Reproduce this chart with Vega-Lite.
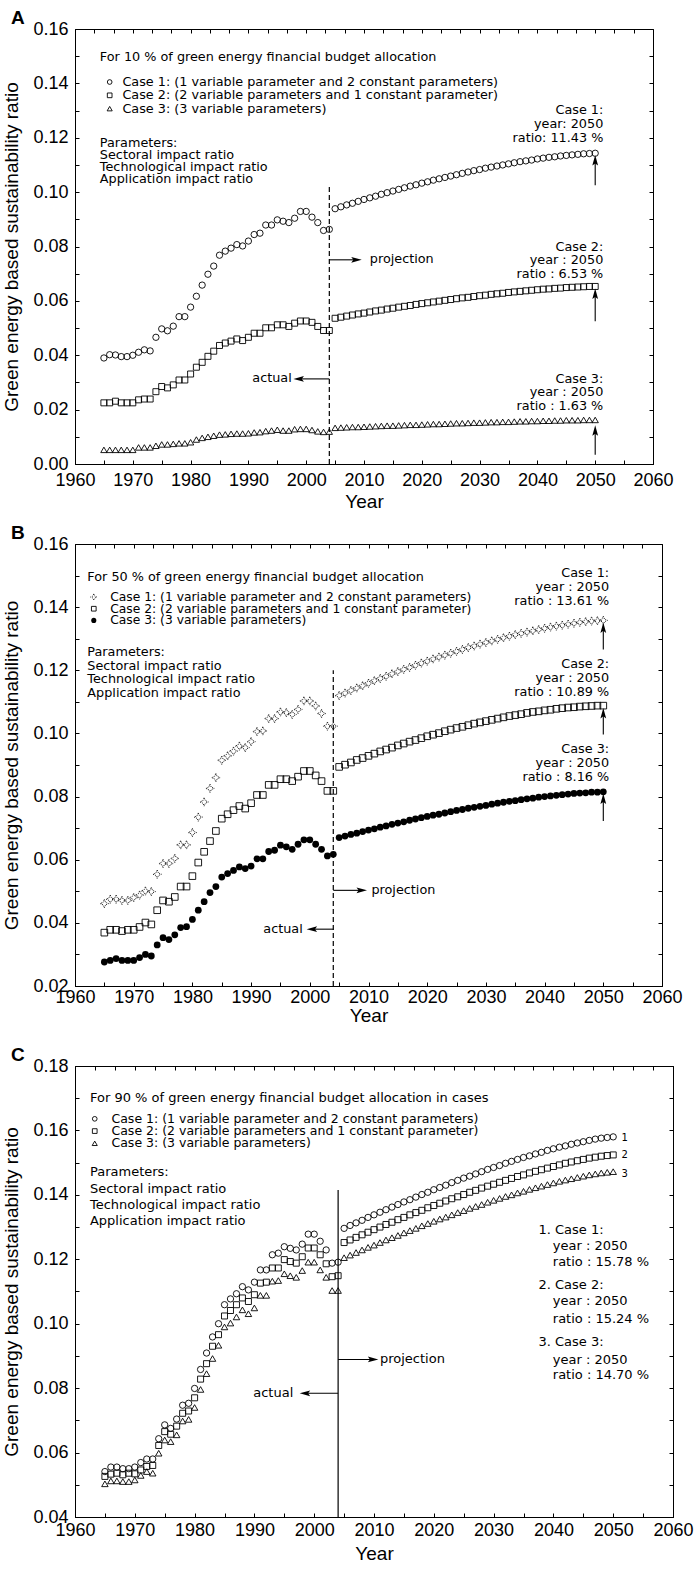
{
"$schema":"https://vega.github.io/schema/vega-lite/v6.json",
"background":"white",
"padding":{"left":2,"top":8,"right":5,"bottom":0},
"bounds":"flush",
"align":"each",
"spacing":80,
"config":{
 "view":{"stroke":"#000","strokeWidth":1},
 "axis":{"grid":false,"domainColor":"#000","domainWidth":1,"tickColor":"#000","tickWidth":1,"tickSize":-4,"labelColor":"#000","titleColor":"#000","labelFont":"Liberation Sans","titleFont":"Liberation Sans","labelFontSize":18,"titleFontSize":19,"titleFontWeight":"normal","labelFlush":false,"labelOverlap":false,"labelBound":false},
 "text":{"font":"DejaVu Sans","fontSize":12.8,"color":"#000"},
 "title":{"font":"Liberation Sans","fontSize":19,"fontWeight":"bold","anchor":"start","frame":"bounds","color":"#000"}
},
"datasets":{
"a1":[{"x":1965,"v":0.039},{"x":1966,"v":0.0402},{"x":1967,"v":0.0401},{"x":1968,"v":0.0395},{"x":1969,"v":0.0395},{"x":1970,"v":0.04},{"x":1971,"v":0.0411},{"x":1972,"v":0.042},{"x":1973,"v":0.0416},{"x":1974,"v":0.0466},{"x":1975,"v":0.0497},{"x":1976,"v":0.049},{"x":1977,"v":0.0507},{"x":1978,"v":0.0542},{"x":1979,"v":0.0542},{"x":1980,"v":0.0577},{"x":1981,"v":0.0617},{"x":1982,"v":0.0658},{"x":1983,"v":0.0698},{"x":1984,"v":0.0728},{"x":1985,"v":0.0768},{"x":1986,"v":0.0783},{"x":1987,"v":0.0794},{"x":1988,"v":0.0807},{"x":1989,"v":0.0802},{"x":1990,"v":0.082},{"x":1991,"v":0.0844},{"x":1992,"v":0.0849},{"x":1993,"v":0.0879},{"x":1994,"v":0.0879},{"x":1995,"v":0.0898},{"x":1996,"v":0.0893},{"x":1997,"v":0.0888},{"x":1998,"v":0.0904},{"x":1999,"v":0.0929},{"x":2000,"v":0.0929},{"x":2001,"v":0.0908},{"x":2002,"v":0.0888},{"x":2003,"v":0.0859},{"x":2004,"v":0.0863},{"x":2005,"v":0.0939},{"x":2006,"v":0.0946},{"x":2007,"v":0.0953},{"x":2008,"v":0.0959},{"x":2009,"v":0.0966},{"x":2010,"v":0.0973},{"x":2011,"v":0.0979},{"x":2012,"v":0.0985},{"x":2013,"v":0.0992},{"x":2014,"v":0.0998},{"x":2015,"v":0.1004},{"x":2016,"v":0.101},{"x":2017,"v":0.1016},{"x":2018,"v":0.1022},{"x":2019,"v":0.1027},{"x":2020,"v":0.1033},{"x":2021,"v":0.1038},{"x":2022,"v":0.1044},{"x":2023,"v":0.1049},{"x":2024,"v":0.1054},{"x":2025,"v":0.1059},{"x":2026,"v":0.1064},{"x":2027,"v":0.1069},{"x":2028,"v":0.1074},{"x":2029,"v":0.1079},{"x":2030,"v":0.1083},{"x":2031,"v":0.1088},{"x":2032,"v":0.1092},{"x":2033,"v":0.1096},{"x":2034,"v":0.11},{"x":2035,"v":0.1104},{"x":2036,"v":0.1108},{"x":2037,"v":0.1112},{"x":2038,"v":0.1115},{"x":2039,"v":0.1118},{"x":2040,"v":0.1122},{"x":2041,"v":0.1125},{"x":2042,"v":0.1128},{"x":2043,"v":0.113},{"x":2044,"v":0.1133},{"x":2045,"v":0.1135},{"x":2046,"v":0.1137},{"x":2047,"v":0.1139},{"x":2048,"v":0.1141},{"x":2049,"v":0.1142},{"x":2050,"v":0.1143}],
"a2":[{"x":1965,"v":0.0225},{"x":1966,"v":0.0225},{"x":1967,"v":0.0231},{"x":1968,"v":0.0225},{"x":1969,"v":0.0225},{"x":1970,"v":0.0225},{"x":1971,"v":0.0236},{"x":1972,"v":0.0239},{"x":1973,"v":0.0239},{"x":1974,"v":0.0266},{"x":1975,"v":0.0285},{"x":1976,"v":0.028},{"x":1977,"v":0.0291},{"x":1978,"v":0.0309},{"x":1979,"v":0.0309},{"x":1980,"v":0.0331},{"x":1981,"v":0.0356},{"x":1982,"v":0.0374},{"x":1983,"v":0.0396},{"x":1984,"v":0.0415},{"x":1985,"v":0.0436},{"x":1986,"v":0.0445},{"x":1987,"v":0.0452},{"x":1988,"v":0.046},{"x":1989,"v":0.0454},{"x":1990,"v":0.0466},{"x":1991,"v":0.0481},{"x":1992,"v":0.0481},{"x":1993,"v":0.0501},{"x":1994,"v":0.0501},{"x":1995,"v":0.0512},{"x":1996,"v":0.0512},{"x":1997,"v":0.0506},{"x":1998,"v":0.0518},{"x":1999,"v":0.0526},{"x":2000,"v":0.0526},{"x":2001,"v":0.0521},{"x":2002,"v":0.0506},{"x":2003,"v":0.0491},{"x":2004,"v":0.0491},{"x":2005,"v":0.0536},{"x":2006,"v":0.054},{"x":2007,"v":0.0544},{"x":2008,"v":0.0548},{"x":2009,"v":0.0552},{"x":2010,"v":0.0555},{"x":2011,"v":0.0559},{"x":2012,"v":0.0563},{"x":2013,"v":0.0566},{"x":2014,"v":0.057},{"x":2015,"v":0.0573},{"x":2016,"v":0.0577},{"x":2017,"v":0.058},{"x":2018,"v":0.0583},{"x":2019,"v":0.0587},{"x":2020,"v":0.059},{"x":2021,"v":0.0593},{"x":2022,"v":0.0596},{"x":2023,"v":0.0599},{"x":2024,"v":0.0602},{"x":2025,"v":0.0605},{"x":2026,"v":0.0608},{"x":2027,"v":0.0611},{"x":2028,"v":0.0613},{"x":2029,"v":0.0616},{"x":2030,"v":0.0619},{"x":2031,"v":0.0621},{"x":2032,"v":0.0624},{"x":2033,"v":0.0626},{"x":2034,"v":0.0628},{"x":2035,"v":0.0631},{"x":2036,"v":0.0633},{"x":2037,"v":0.0635},{"x":2038,"v":0.0637},{"x":2039,"v":0.0639},{"x":2040,"v":0.0641},{"x":2041,"v":0.0643},{"x":2042,"v":0.0644},{"x":2043,"v":0.0646},{"x":2044,"v":0.0647},{"x":2045,"v":0.0649},{"x":2046,"v":0.065},{"x":2047,"v":0.0651},{"x":2048,"v":0.0652},{"x":2049,"v":0.0653},{"x":2050,"v":0.0653}],
"a3":[{"x":1965,"v":0.0052},{"x":1966,"v":0.0052},{"x":1967,"v":0.0052},{"x":1968,"v":0.0052},{"x":1969,"v":0.0052},{"x":1970,"v":0.0052},{"x":1971,"v":0.0061},{"x":1972,"v":0.0061},{"x":1973,"v":0.0061},{"x":1974,"v":0.0067},{"x":1975,"v":0.0072},{"x":1976,"v":0.0072},{"x":1977,"v":0.0074},{"x":1978,"v":0.0076},{"x":1979,"v":0.0076},{"x":1980,"v":0.008},{"x":1981,"v":0.009},{"x":1982,"v":0.0096},{"x":1983,"v":0.01},{"x":1984,"v":0.0104},{"x":1985,"v":0.0108},{"x":1986,"v":0.0109},{"x":1987,"v":0.0111},{"x":1988,"v":0.0112},{"x":1989,"v":0.0112},{"x":1990,"v":0.0113},{"x":1991,"v":0.0116},{"x":1992,"v":0.0117},{"x":1993,"v":0.0121},{"x":1994,"v":0.0123},{"x":1995,"v":0.0126},{"x":1996,"v":0.0123},{"x":1997,"v":0.0123},{"x":1998,"v":0.0128},{"x":1999,"v":0.0129},{"x":2000,"v":0.0129},{"x":2001,"v":0.0125},{"x":2002,"v":0.012},{"x":2003,"v":0.0118},{"x":2004,"v":0.0119},{"x":2005,"v":0.0133},{"x":2006,"v":0.0134},{"x":2007,"v":0.0135},{"x":2008,"v":0.0136},{"x":2009,"v":0.0136},{"x":2010,"v":0.0137},{"x":2011,"v":0.0138},{"x":2012,"v":0.0139},{"x":2013,"v":0.014},{"x":2014,"v":0.0141},{"x":2015,"v":0.0141},{"x":2016,"v":0.0142},{"x":2017,"v":0.0143},{"x":2018,"v":0.0144},{"x":2019,"v":0.0144},{"x":2020,"v":0.0145},{"x":2021,"v":0.0146},{"x":2022,"v":0.0147},{"x":2023,"v":0.0147},{"x":2024,"v":0.0148},{"x":2025,"v":0.0149},{"x":2026,"v":0.015},{"x":2027,"v":0.015},{"x":2028,"v":0.0151},{"x":2029,"v":0.0152},{"x":2030,"v":0.0152},{"x":2031,"v":0.0153},{"x":2032,"v":0.0154},{"x":2033,"v":0.0154},{"x":2034,"v":0.0155},{"x":2035,"v":0.0155},{"x":2036,"v":0.0156},{"x":2037,"v":0.0157},{"x":2038,"v":0.0157},{"x":2039,"v":0.0158},{"x":2040,"v":0.0158},{"x":2041,"v":0.0159},{"x":2042,"v":0.0159},{"x":2043,"v":0.016},{"x":2044,"v":0.016},{"x":2045,"v":0.0161},{"x":2046,"v":0.0161},{"x":2047,"v":0.0161},{"x":2048,"v":0.0162},{"x":2049,"v":0.0162},{"x":2050,"v":0.0162}],
"b1":[{"x":1965,"v":0.0461},{"x":1966,"v":0.0475},{"x":1967,"v":0.0475},{"x":1968,"v":0.0471},{"x":1969,"v":0.0471},{"x":1970,"v":0.048},{"x":1971,"v":0.0488},{"x":1972,"v":0.0501},{"x":1973,"v":0.0499},{"x":1974,"v":0.0554},{"x":1975,"v":0.0588},{"x":1976,"v":0.0588},{"x":1977,"v":0.0604},{"x":1978,"v":0.0647},{"x":1979,"v":0.0647},{"x":1980,"v":0.0686},{"x":1981,"v":0.0735},{"x":1982,"v":0.0783},{"x":1983,"v":0.0826},{"x":1984,"v":0.086},{"x":1985,"v":0.0915},{"x":1986,"v":0.0929},{"x":1987,"v":0.0944},{"x":1988,"v":0.096},{"x":1989,"v":0.0955},{"x":1990,"v":0.0974},{"x":1991,"v":0.1006},{"x":1992,"v":0.1008},{"x":1993,"v":0.1047},{"x":1994,"v":0.1047},{"x":1995,"v":0.1068},{"x":1996,"v":0.1066},{"x":1997,"v":0.106},{"x":1998,"v":0.1076},{"x":1999,"v":0.1103},{"x":2000,"v":0.1103},{"x":2001,"v":0.1087},{"x":2002,"v":0.1063},{"x":2003,"v":0.1023},{"x":2004,"v":0.1023},{"x":2005,"v":0.112},{"x":2006,"v":0.1128},{"x":2007,"v":0.1136},{"x":2008,"v":0.1144},{"x":2009,"v":0.1151},{"x":2010,"v":0.1159},{"x":2011,"v":0.1167},{"x":2012,"v":0.1174},{"x":2013,"v":0.1181},{"x":2014,"v":0.1189},{"x":2015,"v":0.1196},{"x":2016,"v":0.1203},{"x":2017,"v":0.1209},{"x":2018,"v":0.1216},{"x":2019,"v":0.1223},{"x":2020,"v":0.1229},{"x":2021,"v":0.1236},{"x":2022,"v":0.1242},{"x":2023,"v":0.1248},{"x":2024,"v":0.1254},{"x":2025,"v":0.126},{"x":2026,"v":0.1266},{"x":2027,"v":0.1272},{"x":2028,"v":0.1277},{"x":2029,"v":0.1283},{"x":2030,"v":0.1288},{"x":2031,"v":0.1293},{"x":2032,"v":0.1298},{"x":2033,"v":0.1303},{"x":2034,"v":0.1308},{"x":2035,"v":0.1313},{"x":2036,"v":0.1317},{"x":2037,"v":0.1321},{"x":2038,"v":0.1325},{"x":2039,"v":0.1329},{"x":2040,"v":0.1333},{"x":2041,"v":0.1337},{"x":2042,"v":0.134},{"x":2043,"v":0.1343},{"x":2044,"v":0.1346},{"x":2045,"v":0.1349},{"x":2046,"v":0.1352},{"x":2047,"v":0.1354},{"x":2048,"v":0.1356},{"x":2049,"v":0.1357},{"x":2050,"v":0.1358}],
"b2":[{"x":1965,"v":0.0369},{"x":1966,"v":0.0378},{"x":1967,"v":0.0378},{"x":1968,"v":0.0374},{"x":1969,"v":0.0378},{"x":1970,"v":0.0378},{"x":1971,"v":0.0387},{"x":1972,"v":0.0401},{"x":1973,"v":0.0395},{"x":1974,"v":0.044},{"x":1975,"v":0.0471},{"x":1976,"v":0.0467},{"x":1977,"v":0.0482},{"x":1978,"v":0.0515},{"x":1979,"v":0.0515},{"x":1980,"v":0.0548},{"x":1981,"v":0.0591},{"x":1982,"v":0.0625},{"x":1983,"v":0.0659},{"x":1984,"v":0.0691},{"x":1985,"v":0.073},{"x":1986,"v":0.0744},{"x":1987,"v":0.0757},{"x":1988,"v":0.077},{"x":1989,"v":0.0762},{"x":1990,"v":0.0779},{"x":1991,"v":0.0805},{"x":1992,"v":0.0805},{"x":1993,"v":0.0837},{"x":1994,"v":0.0837},{"x":1995,"v":0.0855},{"x":1996,"v":0.0855},{"x":1997,"v":0.0849},{"x":1998,"v":0.0863},{"x":1999,"v":0.0881},{"x":2000,"v":0.0881},{"x":2001,"v":0.0867},{"x":2002,"v":0.0849},{"x":2003,"v":0.0818},{"x":2004,"v":0.0818},{"x":2005,"v":0.0894},{"x":2006,"v":0.0901},{"x":2007,"v":0.0908},{"x":2008,"v":0.0916},{"x":2009,"v":0.0922},{"x":2010,"v":0.0929},{"x":2011,"v":0.0936},{"x":2012,"v":0.0943},{"x":2013,"v":0.0949},{"x":2014,"v":0.0955},{"x":2015,"v":0.0962},{"x":2016,"v":0.0968},{"x":2017,"v":0.0974},{"x":2018,"v":0.0979},{"x":2019,"v":0.0985},{"x":2020,"v":0.0991},{"x":2021,"v":0.0996},{"x":2022,"v":0.1001},{"x":2023,"v":0.1007},{"x":2024,"v":0.1012},{"x":2025,"v":0.1017},{"x":2026,"v":0.1021},{"x":2027,"v":0.1026},{"x":2028,"v":0.1031},{"x":2029,"v":0.1035},{"x":2030,"v":0.1039},{"x":2031,"v":0.1043},{"x":2032,"v":0.1047},{"x":2033,"v":0.1051},{"x":2034,"v":0.1055},{"x":2035,"v":0.1058},{"x":2036,"v":0.1061},{"x":2037,"v":0.1065},{"x":2038,"v":0.1068},{"x":2039,"v":0.107},{"x":2040,"v":0.1073},{"x":2041,"v":0.1075},{"x":2042,"v":0.1078},{"x":2043,"v":0.108},{"x":2044,"v":0.1082},{"x":2045,"v":0.1083},{"x":2046,"v":0.1085},{"x":2047,"v":0.1086},{"x":2048,"v":0.1087},{"x":2049,"v":0.1088},{"x":2050,"v":0.1088}],
"b3":[{"x":1965,"v":0.0276},{"x":1966,"v":0.0281},{"x":1967,"v":0.0287},{"x":1968,"v":0.0281},{"x":1969,"v":0.0281},{"x":1970,"v":0.0281},{"x":1971,"v":0.029},{"x":1972,"v":0.03},{"x":1973,"v":0.0295},{"x":1974,"v":0.033},{"x":1975,"v":0.0353},{"x":1976,"v":0.0347},{"x":1977,"v":0.0362},{"x":1978,"v":0.0385},{"x":1979,"v":0.0388},{"x":1980,"v":0.0411},{"x":1981,"v":0.044},{"x":1982,"v":0.0467},{"x":1983,"v":0.0496},{"x":1984,"v":0.0515},{"x":1985,"v":0.0545},{"x":1986,"v":0.0556},{"x":1987,"v":0.0566},{"x":1988,"v":0.0577},{"x":1989,"v":0.0572},{"x":1990,"v":0.058},{"x":1991,"v":0.0603},{"x":1992,"v":0.0603},{"x":1993,"v":0.0626},{"x":1994,"v":0.063},{"x":1995,"v":0.0646},{"x":1996,"v":0.0641},{"x":1997,"v":0.0633},{"x":1998,"v":0.0649},{"x":1999,"v":0.0663},{"x":2000,"v":0.0663},{"x":2001,"v":0.0649},{"x":2002,"v":0.0633},{"x":2003,"v":0.0612},{"x":2004,"v":0.0617},{"x":2005,"v":0.067},{"x":2006,"v":0.0675},{"x":2007,"v":0.068},{"x":2008,"v":0.0684},{"x":2009,"v":0.0689},{"x":2010,"v":0.0694},{"x":2011,"v":0.0698},{"x":2012,"v":0.0703},{"x":2013,"v":0.0707},{"x":2014,"v":0.0712},{"x":2015,"v":0.0716},{"x":2016,"v":0.072},{"x":2017,"v":0.0725},{"x":2018,"v":0.0729},{"x":2019,"v":0.0733},{"x":2020,"v":0.0737},{"x":2021,"v":0.0741},{"x":2022,"v":0.0744},{"x":2023,"v":0.0748},{"x":2024,"v":0.0752},{"x":2025,"v":0.0756},{"x":2026,"v":0.0759},{"x":2027,"v":0.0763},{"x":2028,"v":0.0766},{"x":2029,"v":0.0769},{"x":2030,"v":0.0772},{"x":2031,"v":0.0776},{"x":2032,"v":0.0779},{"x":2033,"v":0.0782},{"x":2034,"v":0.0785},{"x":2035,"v":0.0787},{"x":2036,"v":0.079},{"x":2037,"v":0.0793},{"x":2038,"v":0.0795},{"x":2039,"v":0.0798},{"x":2040,"v":0.08},{"x":2041,"v":0.0802},{"x":2042,"v":0.0804},{"x":2043,"v":0.0806},{"x":2044,"v":0.0808},{"x":2045,"v":0.081},{"x":2046,"v":0.0811},{"x":2047,"v":0.0812},{"x":2048,"v":0.0814},{"x":2049,"v":0.0814},{"x":2050,"v":0.0815}],
"c1":[{"x":1965,"v":0.0541},{"x":1966,"v":0.0555},{"x":1967,"v":0.0555},{"x":1968,"v":0.055},{"x":1969,"v":0.055},{"x":1970,"v":0.0555},{"x":1971,"v":0.0569},{"x":1972,"v":0.058},{"x":1973,"v":0.058},{"x":1974,"v":0.0643},{"x":1975,"v":0.0686},{"x":1976,"v":0.0675},{"x":1977,"v":0.0704},{"x":1978,"v":0.0747},{"x":1979,"v":0.0753},{"x":1980,"v":0.0799},{"x":1981,"v":0.0858},{"x":1982,"v":0.0909},{"x":1983,"v":0.0959},{"x":1984,"v":0.1},{"x":1985,"v":0.1059},{"x":1986,"v":0.1077},{"x":1987,"v":0.1093},{"x":1988,"v":0.1115},{"x":1989,"v":0.1105},{"x":1990,"v":0.1129},{"x":1991,"v":0.1167},{"x":1992,"v":0.1167},{"x":1993,"v":0.1214},{"x":1994,"v":0.1219},{"x":1995,"v":0.1239},{"x":1996,"v":0.1234},{"x":1997,"v":0.1229},{"x":1998,"v":0.1247},{"x":1999,"v":0.1278},{"x":2000,"v":0.1278},{"x":2001,"v":0.1256},{"x":2002,"v":0.1229},{"x":2003,"v":0.1188},{"x":2004,"v":0.1191},{"x":2005,"v":0.1296},{"x":2006,"v":0.1305},{"x":2007,"v":0.1313},{"x":2008,"v":0.1321},{"x":2009,"v":0.133},{"x":2010,"v":0.1338},{"x":2011,"v":0.1346},{"x":2012,"v":0.1354},{"x":2013,"v":0.1362},{"x":2014,"v":0.137},{"x":2015,"v":0.1378},{"x":2016,"v":0.1385},{"x":2017,"v":0.1393},{"x":2018,"v":0.1401},{"x":2019,"v":0.1408},{"x":2020,"v":0.1416},{"x":2021,"v":0.1423},{"x":2022,"v":0.143},{"x":2023,"v":0.1438},{"x":2024,"v":0.1445},{"x":2025,"v":0.1452},{"x":2026,"v":0.1458},{"x":2027,"v":0.1465},{"x":2028,"v":0.1472},{"x":2029,"v":0.1479},{"x":2030,"v":0.1485},{"x":2031,"v":0.1491},{"x":2032,"v":0.1498},{"x":2033,"v":0.1504},{"x":2034,"v":0.151},{"x":2035,"v":0.1516},{"x":2036,"v":0.1521},{"x":2037,"v":0.1527},{"x":2038,"v":0.1532},{"x":2039,"v":0.1538},{"x":2040,"v":0.1543},{"x":2041,"v":0.1548},{"x":2042,"v":0.1552},{"x":2043,"v":0.1557},{"x":2044,"v":0.1561},{"x":2045,"v":0.1565},{"x":2046,"v":0.1569},{"x":2047,"v":0.1573},{"x":2048,"v":0.1576},{"x":2049,"v":0.1578},{"x":2050,"v":0.158}],
"c2":[{"x":1965,"v":0.0526},{"x":1966,"v":0.0533},{"x":1967,"v":0.0536},{"x":1968,"v":0.0531},{"x":1969,"v":0.0536},{"x":1970,"v":0.0534},{"x":1971,"v":0.0546},{"x":1972,"v":0.0557},{"x":1973,"v":0.056},{"x":1974,"v":0.0622},{"x":1975,"v":0.0665},{"x":1976,"v":0.0657},{"x":1977,"v":0.0682},{"x":1978,"v":0.0722},{"x":1979,"v":0.0729},{"x":1980,"v":0.077},{"x":1981,"v":0.0828},{"x":1982,"v":0.0876},{"x":1983,"v":0.093},{"x":1984,"v":0.0966},{"x":1985,"v":0.1024},{"x":1986,"v":0.1041},{"x":1987,"v":0.1059},{"x":1988,"v":0.108},{"x":1989,"v":0.1069},{"x":1990,"v":0.109},{"x":1991,"v":0.1126},{"x":1992,"v":0.1129},{"x":1993,"v":0.1173},{"x":1994,"v":0.1173},{"x":1995,"v":0.1199},{"x":1996,"v":0.1193},{"x":1997,"v":0.1188},{"x":1998,"v":0.1208},{"x":1999,"v":0.1235},{"x":2000,"v":0.1235},{"x":2001,"v":0.1214},{"x":2002,"v":0.1186},{"x":2003,"v":0.1146},{"x":2004,"v":0.1149},{"x":2005,"v":0.1252},{"x":2006,"v":0.126},{"x":2007,"v":0.1268},{"x":2008,"v":0.1276},{"x":2009,"v":0.1284},{"x":2010,"v":0.1292},{"x":2011,"v":0.13},{"x":2012,"v":0.1308},{"x":2013,"v":0.1315},{"x":2014,"v":0.1323},{"x":2015,"v":0.133},{"x":2016,"v":0.1338},{"x":2017,"v":0.1345},{"x":2018,"v":0.1352},{"x":2019,"v":0.136},{"x":2020,"v":0.1367},{"x":2021,"v":0.1374},{"x":2022,"v":0.1381},{"x":2023,"v":0.1388},{"x":2024,"v":0.1394},{"x":2025,"v":0.1401},{"x":2026,"v":0.1408},{"x":2027,"v":0.1414},{"x":2028,"v":0.1421},{"x":2029,"v":0.1427},{"x":2030,"v":0.1433},{"x":2031,"v":0.1439},{"x":2032,"v":0.1445},{"x":2033,"v":0.1451},{"x":2034,"v":0.1457},{"x":2035,"v":0.1462},{"x":2036,"v":0.1468},{"x":2037,"v":0.1473},{"x":2038,"v":0.1478},{"x":2039,"v":0.1483},{"x":2040,"v":0.1488},{"x":2041,"v":0.1493},{"x":2042,"v":0.1498},{"x":2043,"v":0.1502},{"x":2044,"v":0.1506},{"x":2045,"v":0.151},{"x":2046,"v":0.1514},{"x":2047,"v":0.1517},{"x":2048,"v":0.152},{"x":2049,"v":0.1522},{"x":2050,"v":0.1524}],
"c3":[{"x":1965,"v":0.0503},{"x":1966,"v":0.0512},{"x":1967,"v":0.0512},{"x":1968,"v":0.051},{"x":1969,"v":0.051},{"x":1970,"v":0.0515},{"x":1971,"v":0.0529},{"x":1972,"v":0.0541},{"x":1973,"v":0.0536},{"x":1974,"v":0.0598},{"x":1975,"v":0.0639},{"x":1976,"v":0.0634},{"x":1977,"v":0.0655},{"x":1978,"v":0.0698},{"x":1979,"v":0.0703},{"x":1980,"v":0.074},{"x":1981,"v":0.0796},{"x":1982,"v":0.0845},{"x":1983,"v":0.0892},{"x":1984,"v":0.0933},{"x":1985,"v":0.099},{"x":1986,"v":0.1002},{"x":1987,"v":0.1021},{"x":1988,"v":0.1043},{"x":1989,"v":0.1031},{"x":1990,"v":0.1049},{"x":1991,"v":0.1088},{"x":1992,"v":0.1088},{"x":1993,"v":0.1132},{"x":1994,"v":0.1134},{"x":1995,"v":0.1155},{"x":1996,"v":0.1149},{"x":1997,"v":0.1144},{"x":1998,"v":0.1165},{"x":1999,"v":0.1191},{"x":2000,"v":0.1191},{"x":2001,"v":0.1167},{"x":2002,"v":0.1144},{"x":2003,"v":0.1103},{"x":2004,"v":0.1103},{"x":2005,"v":0.1205},{"x":2006,"v":0.1213},{"x":2007,"v":0.1221},{"x":2008,"v":0.1229},{"x":2009,"v":0.1237},{"x":2010,"v":0.1244},{"x":2011,"v":0.1252},{"x":2012,"v":0.126},{"x":2013,"v":0.1267},{"x":2014,"v":0.1274},{"x":2015,"v":0.1282},{"x":2016,"v":0.1289},{"x":2017,"v":0.1296},{"x":2018,"v":0.1304},{"x":2019,"v":0.1311},{"x":2020,"v":0.1318},{"x":2021,"v":0.1325},{"x":2022,"v":0.1331},{"x":2023,"v":0.1338},{"x":2024,"v":0.1345},{"x":2025,"v":0.1351},{"x":2026,"v":0.1358},{"x":2027,"v":0.1364},{"x":2028,"v":0.137},{"x":2029,"v":0.1377},{"x":2030,"v":0.1383},{"x":2031,"v":0.1389},{"x":2032,"v":0.1395},{"x":2033,"v":0.14},{"x":2034,"v":0.1406},{"x":2035,"v":0.1411},{"x":2036,"v":0.1417},{"x":2037,"v":0.1422},{"x":2038,"v":0.1427},{"x":2039,"v":0.1432},{"x":2040,"v":0.1437},{"x":2041,"v":0.1442},{"x":2042,"v":0.1446},{"x":2043,"v":0.145},{"x":2044,"v":0.1454},{"x":2045,"v":0.1458},{"x":2046,"v":0.1462},{"x":2047,"v":0.1465},{"x":2048,"v":0.1468},{"x":2049,"v":0.147},{"x":2050,"v":0.1472}],
"aV":[{"x":2004,"y":0,"y2":0.103}],
"bV":[{"x":2004,"y":0.02,"y2":0.12}],
"cV":[{"x":2004,"y":0.04,"y2":0.1415}],
"aS":[{"x":2004,"x2":2008.7,"y":0.0751,"y2":0.0751},{"x":2004,"x2":1998.7,"y":0.0313,"y2":0.0313},{"x":2050,"x2":2050,"y":0.1025,"y2":0.1117},{"x":2050,"x2":2050,"y":0.0525,"y2":0.0626},{"x":2050,"x2":2050,"y":0.0034,"y2":0.0123}],
"aH":[{"x":2008.7,"y":0.0751,"a":0},{"x":1998.7,"y":0.0313,"a":180},{"x":2050,"y":0.1117,"a":270},{"x":2050,"y":0.0626,"a":270},{"x":2050,"y":0.0123,"a":270}],
"bS":[{"x":2004,"x2":2008.85,"y":0.0503,"y2":0.0503},{"x":2004,"x2":2000.35,"y":0.038,"y2":0.038},{"x":2050,"x2":2050,"y":0.1266,"y2":0.1335},{"x":2050,"x2":2050,"y":0.0997,"y2":0.1064},{"x":2050,"x2":2050,"y":0.0723,"y2":0.0793}],
"bH":[{"x":2008.85,"y":0.0503,"a":0},{"x":2000.35,"y":0.038,"a":180},{"x":2050,"y":0.1335,"a":270},{"x":2050,"y":0.1064,"a":270},{"x":2050,"y":0.0793,"a":270}],
"cS":[{"x":2004,"x2":2009.85,"y":0.0889,"y2":0.0889},{"x":2004,"x2":1998.45,"y":0.0784,"y2":0.0784}],
"cH":[{"x":2009.85,"y":0.0889,"a":0},{"x":1998.45,"y":0.0784,"a":180}],
"aL":[{"x":1966,"y":0.1405,"s":1},{"x":1966,"y":0.1356,"s":2},{"x":1966,"y":0.1307,"s":3}],
"bL":[{"x":1963.2,"y":0.1432,"s":1},{"x":1963.2,"y":0.1395,"s":2},{"x":1963.2,"y":0.1358,"s":3}],
"cL":[{"x":1963.3,"y":0.1636,"s":1},{"x":1963.3,"y":0.1598,"s":2},{"x":1963.3,"y":0.156,"s":3}],
"aT":[{"x":1964.3,"y":0.1497,"t":"For 10 % of green energy financial budget allocation"},{"x":1968.2,"y":0.1405,"t":"Case 1: (1 variable parameter and 2 constant parameters)"},{"x":1968.2,"y":0.1356,"t":"Case 2: (2 variable parameters and 1 constant parameter)"},{"x":1968.2,"y":0.1307,"t":"Case 3: (3 variable parameters)"},{"x":1964.3,"y":0.1182,"t":"Parameters:"},{"x":1964.3,"y":0.1138,"t":"Sectoral impact ratio"},{"x":1964.3,"y":0.1094,"t":"Technological impact ratio"},{"x":1964.3,"y":0.1047,"t":"Application impact ratio"},{"x":2011,"y":0.0755,"t":"projection"}],
"aR":[{"x":2051.4,"y":0.1301,"t":"Case 1:"},{"x":2051.4,"y":0.1249,"t":"year: 2050"},{"x":2051.4,"y":0.12,"t":"ratio: 11.43 %"},{"x":2051.4,"y":0.08,"t":"Case 2:"},{"x":2051.4,"y":0.0751,"t":"year : 2050"},{"x":2051.4,"y":0.07,"t":"ratio : 6.53 %"},{"x":2051.4,"y":0.0313,"t":"Case 3:"},{"x":2051.4,"y":0.0264,"t":"year : 2050"},{"x":2051.4,"y":0.0215,"t":"ratio : 1.63 %"},{"x":1997.5,"y":0.0315,"t":"actual"}],
"bT":[{"x":1962.1,"y":0.1496,"t":"For 50 % of green energy financial budget allocation"},{"x":1962.1,"y":0.1259,"t":"Parameters:"},{"x":1962.1,"y":0.1214,"t":"Sectoral impact ratio"},{"x":1962.1,"y":0.1173,"t":"Technological impact ratio"},{"x":1962.1,"y":0.1127,"t":"Application impact ratio"},{"x":2010.5,"y":0.0503,"t":"projection"}],
"bG":[{"x":1966,"y":0.1432,"t":"Case 1: (1 variable parameter and 2 constant parameters)"},{"x":1966,"y":0.1395,"t":"Case 2: (2 variable parameters and 1 constant parameter)"},{"x":1966,"y":0.1358,"t":"Case 3: (3 variable parameters)"}],
"bR":[{"x":2051,"y":0.1509,"t":"Case 1:"},{"x":2051,"y":0.1464,"t":"year : 2050"},{"x":2051,"y":0.142,"t":"ratio : 13.61 %"},{"x":2051,"y":0.1219,"t":"Case 2:"},{"x":2051,"y":0.1177,"t":"year : 2050"},{"x":2051,"y":0.1132,"t":"ratio : 10.89 %"},{"x":2051,"y":0.095,"t":"Case 3:"},{"x":2051,"y":0.0905,"t":"year : 2050"},{"x":2051,"y":0.0862,"t":"ratio : 8.16 %"},{"x":1998.8,"y":0.038,"t":"actual"}],
"cT":[{"x":1962.5,"y":0.1701,"t":"For 90 % of green energy financial budget allocation in cases"},{"x":1962.5,"y":0.1471,"t":"Parameters:"},{"x":1962.5,"y":0.1418,"t":"Sectoral impact ratio"},{"x":1962.5,"y":0.1368,"t":"Technological impact ratio"},{"x":1962.5,"y":0.132,"t":"Application impact ratio"},{"x":2011,"y":0.0889,"t":"projection"},{"x":2037.5,"y":0.1291,"t":"1. Case 1:"},{"x":2039.9,"y":0.1242,"t":"year : 2050"},{"x":2039.9,"y":0.1191,"t":"ratio : 15.78 %"},{"x":2037.5,"y":0.1119,"t":"2. Case 2:"},{"x":2039.9,"y":0.1069,"t":"year : 2050"},{"x":2039.9,"y":0.1015,"t":"ratio : 15.24 %"},{"x":2037.5,"y":0.0943,"t":"3. Case 3:"},{"x":2039.9,"y":0.0887,"t":"year : 2050"},{"x":2039.9,"y":0.084,"t":"ratio : 14.70 %"}],
"cG":[{"x":1966.1,"y":0.1636,"t":"Case 1: (1 variable parameter and 2 constant parameters)"},{"x":1966.1,"y":0.1598,"t":"Case 2: (2 variable parameters and 1 constant parameter)"},{"x":1966.1,"y":0.156,"t":"Case 3: (3 variable parameters)"}],
"cR":[{"x":1996.5,"y":0.0784,"t":"actual"}],
"cN":[{"x":2051.4,"y":0.1577,"t":"1"},{"x":2051.4,"y":0.1523,"t":"2"},{"x":2051.4,"y":0.1464,"t":"3"}]
},
"vconcat":[
{
 "title":{"text":"A","dx":8,"offset":-8},
 "width":578,"height":435,
 "resolve":{"axis":{"x":"independent","y":"independent"}},
 "layer":[
  {"data":{"name":"aV"},"mark":{"type":"rule","color":"#000","strokeWidth":1.2,"strokeDash":[5,3]},
   "encoding":{"x":{"field":"x","type":"quantitative","scale":{"domain":[1960,2060],"nice":false,"zero":false},"axis":{"orient":"top","labels":false,"title":null,"domain":false,"values":[1960,1963.33,1966.67,1970,1973.33,1976.67,1980,1983.33,1986.67,1990,1993.33,1996.67,2000,2003.33,2006.67,2010,2013.33,2016.67,2020,2023.33,2026.67,2030,2033.33,2036.67,2040,2043.33,2046.67,2050,2053.33,2056.67,2060]}},
    "y":{"field":"y","type":"quantitative","scale":{"domain":[0,0.16],"nice":false,"zero":false},"axis":{"orient":"right","labels":false,"title":null,"domain":false,"values":[0,0.01,0.02,0.03,0.04,0.05,0.06,0.07,0.08,0.09,0.1,0.11,0.12,0.13,0.14,0.15,0.16]}},
    "y2":{"field":"y2"}}},
  {"data":{"name":"a1"},"mark":{"type":"point","shape":"circle","size":40,"filled":false,"color":"#000","strokeWidth":0.9,"opacity":1},
   "encoding":{"x":{"field":"x","type":"quantitative","scale":{"domain":[1960,2060],"nice":false,"zero":false},"axis":{"orient":"bottom","title":"Year","format":"d","values":[1960,1965,1970,1975,1980,1985,1990,1995,2000,2005,2010,2015,2020,2025,2030,2035,2040,2045,2050,2055,2060],"labelExpr":"datum.value % 10 === 0 ? datum.label : ''","labelPadding":11,"titlePadding":3}},
    "y":{"field":"v","type":"quantitative","scale":{"domain":[0,0.16],"nice":false,"zero":false},"axis":{"orient":"left","title":"Green energy based sustainability ratio","values":[0,0.01,0.02,0.03,0.04,0.05,0.06,0.07,0.08,0.09,0.1,0.11,0.12,0.13,0.14,0.15,0.16],"labelExpr":"round(datum.value*100) % 2 === 0 ? format(datum.value, '.2f') : ''","labelPadding":11,"titlePadding":11}}}},
  {"data":{"name":"a2"},"mark":{"type":"point","shape":"square","size":36,"filled":false,"color":"#000","strokeWidth":0.9,"opacity":1},
   "encoding":{"x":{"field":"x","type":"quantitative","axis":null},"y":{"field":"v","type":"quantitative","axis":null}}},
  {"data":{"name":"a3"},"mark":{"type":"point","shape":"triangle-up","size":40,"filled":false,"color":"#000","strokeWidth":0.9,"opacity":1},
   "encoding":{"x":{"field":"x","type":"quantitative","axis":null},"y":{"field":"v","type":"quantitative","axis":null}}},
  {"data":{"name":"aS"},"mark":{"type":"rule","color":"#000","strokeWidth":1.1},
   "encoding":{"x":{"field":"x","type":"quantitative","axis":null},"x2":{"field":"x2"},"y":{"field":"y","type":"quantitative","axis":null},"y2":{"field":"y2"}}},
  {"data":{"name":"aH"},"mark":{"type":"point","shape":"M1,0L-1,-0.55L-0.6,0L-1,0.55Z","size":110,"filled":true,"color":"#000","opacity":1},
   "encoding":{"x":{"field":"x","type":"quantitative","axis":null},"y":{"field":"y","type":"quantitative","axis":null},"angle":{"field":"a","type":"quantitative","scale":null}}},
  {"data":{"name":"aL"},"transform":[{"filter":"datum.s == 1"}],"mark":{"type":"point","shape":"circle","size":22,"filled":false,"color":"#000","strokeWidth":0.9,"opacity":1},
   "encoding":{"x":{"field":"x","type":"quantitative","axis":null},"y":{"field":"y","type":"quantitative","axis":null}}},
  {"data":{"name":"aL"},"transform":[{"filter":"datum.s == 2"}],"mark":{"type":"point","shape":"square","size":22,"filled":false,"color":"#000","strokeWidth":0.9,"opacity":1},
   "encoding":{"x":{"field":"x","type":"quantitative","axis":null},"y":{"field":"y","type":"quantitative","axis":null}}},
  {"data":{"name":"aL"},"transform":[{"filter":"datum.s == 3"}],"mark":{"type":"point","shape":"triangle-up","size":26,"filled":false,"color":"#000","strokeWidth":0.9,"opacity":1},
   "encoding":{"x":{"field":"x","type":"quantitative","axis":null},"y":{"field":"y","type":"quantitative","axis":null}}},
  {"data":{"name":"aT"},"mark":{"type":"text","align":"left","baseline":"middle"},
   "encoding":{"x":{"field":"x","type":"quantitative","axis":null},"y":{"field":"y","type":"quantitative","axis":null},"text":{"field":"t","type":"nominal"}}},
  {"data":{"name":"aR"},"mark":{"type":"text","align":"right","baseline":"middle"},
   "encoding":{"x":{"field":"x","type":"quantitative","axis":null},"y":{"field":"y","type":"quantitative","axis":null},"text":{"field":"t","type":"nominal"}}}
 ]
},
{
 "title":{"text":"B","dx":8,"offset":-8},
 "width":587,"height":442,
 "resolve":{"axis":{"x":"independent","y":"independent"}},
 "layer":[
  {"data":{"name":"bV"},"mark":{"type":"rule","color":"#000","strokeWidth":1.2,"strokeDash":[5,3]},
   "encoding":{"x":{"field":"x","type":"quantitative","scale":{"domain":[1960,2060],"nice":false,"zero":false},"axis":{"orient":"top","labels":false,"title":null,"domain":false,"values":[1960,1963.33,1966.67,1970,1973.33,1976.67,1980,1983.33,1986.67,1990,1993.33,1996.67,2000,2003.33,2006.67,2010,2013.33,2016.67,2020,2023.33,2026.67,2030,2033.33,2036.67,2040,2043.33,2046.67,2050,2053.33,2056.67,2060]}},
    "y":{"field":"y","type":"quantitative","scale":{"domain":[0.02,0.16],"nice":false,"zero":false},"axis":{"orient":"right","labels":false,"title":null,"domain":false,"values":[0.02,0.03,0.04,0.05,0.06,0.07,0.08,0.09,0.1,0.11,0.12,0.13,0.14,0.15,0.16]}},
    "y2":{"field":"y2"}}},
  {"data":{"name":"b1"},"mark":{"type":"point","shape":"M0,-1L0.3,-0.3L1,0L0.3,0.3L0,1L-0.3,0.3L-1,0L-0.3,-0.3Z","size":70,"filled":false,"color":"#000","strokeWidth":0.9,"strokeDash":[1,1],"opacity":1},
   "encoding":{"x":{"field":"x","type":"quantitative","scale":{"domain":[1960,2060],"nice":false,"zero":false},"axis":{"orient":"bottom","title":"Year","format":"d","values":[1960,1965,1970,1975,1980,1985,1990,1995,2000,2005,2010,2015,2020,2025,2030,2035,2040,2045,2050,2055,2060],"labelExpr":"datum.value % 10 === 0 ? datum.label : ''","labelPadding":6,"titlePadding":0}},
    "y":{"field":"v","type":"quantitative","scale":{"domain":[0.02,0.16],"nice":false,"zero":false},"axis":{"orient":"left","title":"Green energy based sustainability ratio","values":[0.02,0.03,0.04,0.05,0.06,0.07,0.08,0.09,0.1,0.11,0.12,0.13,0.14,0.15,0.16],"labelExpr":"round(datum.value*100) % 2 === 0 ? format(datum.value, '.2f') : ''","labelPadding":11,"titlePadding":11}}}},
  {"data":{"name":"b2"},"mark":{"type":"point","shape":"square","size":44,"filled":false,"color":"#000","strokeWidth":0.9,"opacity":1},
   "encoding":{"x":{"field":"x","type":"quantitative","axis":null},"y":{"field":"v","type":"quantitative","axis":null}}},
  {"data":{"name":"b3"},"mark":{"type":"point","shape":"circle","size":46,"filled":true,"color":"#000","opacity":1},
   "encoding":{"x":{"field":"x","type":"quantitative","axis":null},"y":{"field":"v","type":"quantitative","axis":null}}},
  {"data":{"name":"bS"},"mark":{"type":"rule","color":"#000","strokeWidth":1.1},
   "encoding":{"x":{"field":"x","type":"quantitative","axis":null},"x2":{"field":"x2"},"y":{"field":"y","type":"quantitative","axis":null},"y2":{"field":"y2"}}},
  {"data":{"name":"bH"},"mark":{"type":"point","shape":"M1,0L-1,-0.55L-0.6,0L-1,0.55Z","size":110,"filled":true,"color":"#000","opacity":1},
   "encoding":{"x":{"field":"x","type":"quantitative","axis":null},"y":{"field":"y","type":"quantitative","axis":null},"angle":{"field":"a","type":"quantitative","scale":null}}},
  {"data":{"name":"bL"},"transform":[{"filter":"datum.s == 1"}],"mark":{"type":"point","shape":"M0,-1L0.3,-0.3L1,0L0.3,0.3L0,1L-0.3,0.3L-1,0L-0.3,-0.3Z","size":40,"filled":false,"color":"#000","strokeWidth":0.8,"strokeDash":[1,1],"opacity":1},
   "encoding":{"x":{"field":"x","type":"quantitative","axis":null},"y":{"field":"y","type":"quantitative","axis":null}}},
  {"data":{"name":"bL"},"transform":[{"filter":"datum.s == 2"}],"mark":{"type":"point","shape":"square","size":22,"filled":false,"color":"#000","strokeWidth":0.9,"opacity":1},
   "encoding":{"x":{"field":"x","type":"quantitative","axis":null},"y":{"field":"y","type":"quantitative","axis":null}}},
  {"data":{"name":"bL"},"transform":[{"filter":"datum.s == 3"}],"mark":{"type":"point","shape":"circle","size":26,"filled":true,"color":"#000","opacity":1},
   "encoding":{"x":{"field":"x","type":"quantitative","axis":null},"y":{"field":"y","type":"quantitative","axis":null}}},
  {"data":{"name":"bT"},"mark":{"type":"text","align":"left","baseline":"middle"},
   "encoding":{"x":{"field":"x","type":"quantitative","axis":null},"y":{"field":"y","type":"quantitative","axis":null},"text":{"field":"t","type":"nominal"}}},
  {"data":{"name":"bG"},"mark":{"type":"text","align":"left","baseline":"middle","fontSize":12.3},
   "encoding":{"x":{"field":"x","type":"quantitative","axis":null},"y":{"field":"y","type":"quantitative","axis":null},"text":{"field":"t","type":"nominal"}}},
  {"data":{"name":"bR"},"mark":{"type":"text","align":"right","baseline":"middle"},
   "encoding":{"x":{"field":"x","type":"quantitative","axis":null},"y":{"field":"y","type":"quantitative","axis":null},"text":{"field":"t","type":"nominal"}}}
 ]
},
{
 "title":{"text":"C","dx":8,"offset":-8},
 "width":598,"height":451,
 "resolve":{"axis":{"x":"independent","y":"independent"}},
 "layer":[
  {"data":{"name":"cV"},"mark":{"type":"rule","color":"#000","strokeWidth":1.2},
   "encoding":{"x":{"field":"x","type":"quantitative","scale":{"domain":[1960,2060],"nice":false,"zero":false},"axis":{"orient":"top","labels":false,"title":null,"domain":false,"values":[1960,1963.33,1966.67,1970,1973.33,1976.67,1980,1983.33,1986.67,1990,1993.33,1996.67,2000,2003.33,2006.67,2010,2013.33,2016.67,2020,2023.33,2026.67,2030,2033.33,2036.67,2040,2043.33,2046.67,2050,2053.33,2056.67,2060]}},
    "y":{"field":"y","type":"quantitative","scale":{"domain":[0.04,0.18],"nice":false,"zero":false},"axis":{"orient":"right","labels":false,"title":null,"domain":false,"values":[0.04,0.05,0.06,0.07,0.08,0.09,0.1,0.11,0.12,0.13,0.14,0.15,0.16,0.17,0.18]}},
    "y2":{"field":"y2"}}},
  {"data":{"name":"c1"},"mark":{"type":"point","shape":"circle","size":40,"filled":false,"color":"#000","strokeWidth":0.9,"opacity":1},
   "encoding":{"x":{"field":"x","type":"quantitative","scale":{"domain":[1960,2060],"nice":false,"zero":false},"axis":{"orient":"bottom","title":"Year","format":"d","values":[1960,1965,1970,1975,1980,1985,1990,1995,2000,2005,2010,2015,2020,2025,2030,2035,2040,2045,2050,2055,2060],"labelExpr":"datum.value % 10 === 0 ? datum.label : ''","labelPadding":8.5,"titlePadding":5}},
    "y":{"field":"v","type":"quantitative","scale":{"domain":[0.04,0.18],"nice":false,"zero":false},"axis":{"orient":"left","title":"Green energy based sustainability ratio","values":[0.04,0.05,0.06,0.07,0.08,0.09,0.1,0.11,0.12,0.13,0.14,0.15,0.16,0.17,0.18],"labelExpr":"round(datum.value*100) % 2 === 0 ? format(datum.value, '.2f') : ''","labelPadding":11,"titlePadding":11}}}},
  {"data":{"name":"c2"},"mark":{"type":"point","shape":"square","size":36,"filled":false,"color":"#000","strokeWidth":0.9,"opacity":1},
   "encoding":{"x":{"field":"x","type":"quantitative","axis":null},"y":{"field":"v","type":"quantitative","axis":null}}},
  {"data":{"name":"c3"},"mark":{"type":"point","shape":"triangle-up","size":42,"filled":false,"color":"#000","strokeWidth":0.9,"opacity":1},
   "encoding":{"x":{"field":"x","type":"quantitative","axis":null},"y":{"field":"v","type":"quantitative","axis":null}}},
  {"data":{"name":"cS"},"mark":{"type":"rule","color":"#000","strokeWidth":1.1},
   "encoding":{"x":{"field":"x","type":"quantitative","axis":null},"x2":{"field":"x2"},"y":{"field":"y","type":"quantitative","axis":null},"y2":{"field":"y2"}}},
  {"data":{"name":"cH"},"mark":{"type":"point","shape":"M1,0L-1,-0.55L-0.6,0L-1,0.55Z","size":110,"filled":true,"color":"#000","opacity":1},
   "encoding":{"x":{"field":"x","type":"quantitative","axis":null},"y":{"field":"y","type":"quantitative","axis":null},"angle":{"field":"a","type":"quantitative","scale":null}}},
  {"data":{"name":"cL"},"transform":[{"filter":"datum.s == 1"}],"mark":{"type":"point","shape":"circle","size":22,"filled":false,"color":"#000","strokeWidth":0.9,"opacity":1},
   "encoding":{"x":{"field":"x","type":"quantitative","axis":null},"y":{"field":"y","type":"quantitative","axis":null}}},
  {"data":{"name":"cL"},"transform":[{"filter":"datum.s == 2"}],"mark":{"type":"point","shape":"square","size":22,"filled":false,"color":"#000","strokeWidth":0.9,"opacity":1},
   "encoding":{"x":{"field":"x","type":"quantitative","axis":null},"y":{"field":"y","type":"quantitative","axis":null}}},
  {"data":{"name":"cL"},"transform":[{"filter":"datum.s == 3"}],"mark":{"type":"point","shape":"triangle-up","size":26,"filled":false,"color":"#000","strokeWidth":0.9,"opacity":1},
   "encoding":{"x":{"field":"x","type":"quantitative","axis":null},"y":{"field":"y","type":"quantitative","axis":null}}},
  {"data":{"name":"cT"},"mark":{"type":"text","align":"left","baseline":"middle","fontSize":13},
   "encoding":{"x":{"field":"x","type":"quantitative","axis":null},"y":{"field":"y","type":"quantitative","axis":null},"text":{"field":"t","type":"nominal"}}},
  {"data":{"name":"cG"},"mark":{"type":"text","align":"left","baseline":"middle","fontSize":12.5},
   "encoding":{"x":{"field":"x","type":"quantitative","axis":null},"y":{"field":"y","type":"quantitative","axis":null},"text":{"field":"t","type":"nominal"}}},
  {"data":{"name":"cR"},"mark":{"type":"text","align":"right","baseline":"middle","fontSize":13},
   "encoding":{"x":{"field":"x","type":"quantitative","axis":null},"y":{"field":"y","type":"quantitative","axis":null},"text":{"field":"t","type":"nominal"}}},
  {"data":{"name":"cN"},"mark":{"type":"text","align":"left","baseline":"middle","fontSize":10},
   "encoding":{"x":{"field":"x","type":"quantitative","axis":null},"y":{"field":"y","type":"quantitative","axis":null},"text":{"field":"t","type":"nominal"}}}
 ]
}
]
}
